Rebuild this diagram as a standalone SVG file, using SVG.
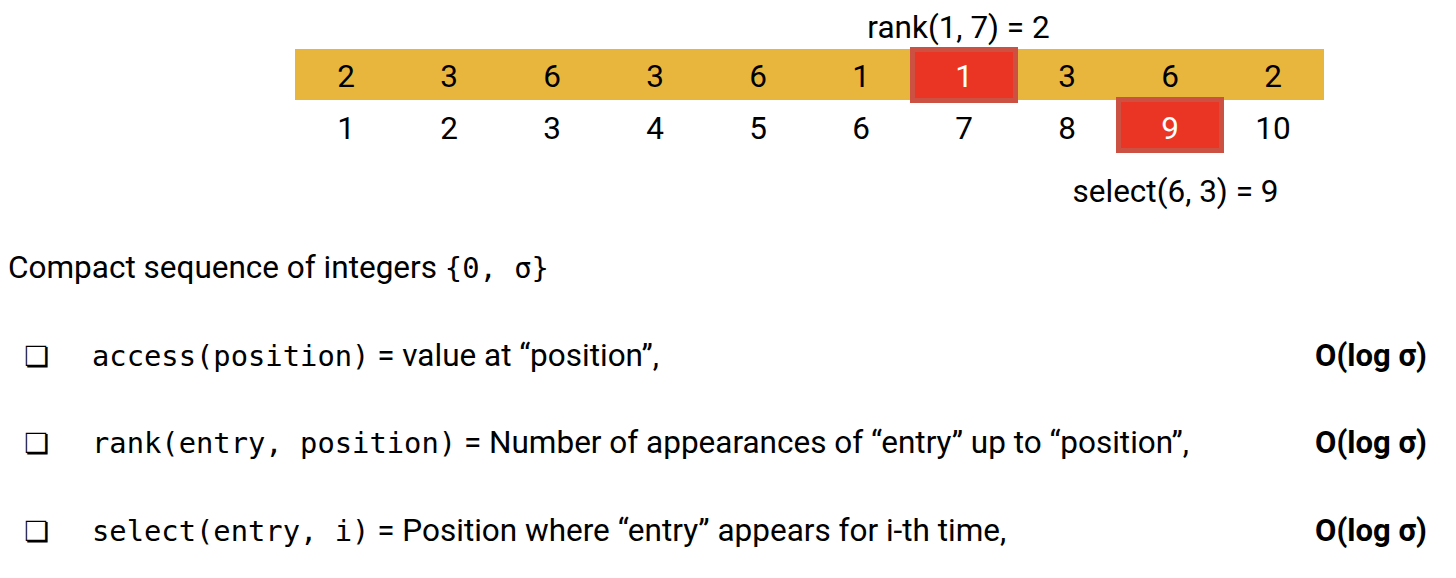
<svg xmlns="http://www.w3.org/2000/svg" width="1456" height="578" viewBox="0 0 1456 578">
<style>
.t{font-family:Roboto,"Liberation Sans",sans-serif;font-size:31.5px;fill:#000}
.c{text-anchor:middle}
.w{fill:#fff}
.m{font-family:"DejaVu Sans Mono","Liberation Mono",monospace;font-size:28.8px}
.b{font-weight:bold;text-anchor:end;font-size:31px}
.hl{fill:#ea3424;stroke:#cc5142;stroke-width:5}
.chk{font-family:"DejaVu Sans",sans-serif;font-size:28px;fill:#000}
</style>
<rect width="1456" height="578" fill="#fff"/>
<g id="array">
<rect x="295" y="49" width="1029" height="51" fill="#e9b63d"/>
</g>
<g id="highlights">
<rect class="hl" x="912.5" y="49.5" width="103" height="51"/>
<rect class="hl" x="1118.5" y="99.5" width="103" height="51"/>
</g>
<g id="values" class="t c">
<text x="346" y="87">2</text>
<text x="449" y="87">3</text>
<text x="552" y="87">6</text>
<text x="655" y="87">3</text>
<text x="758" y="87">6</text>
<text x="861" y="87">1</text>
<text x="964" y="87" class="w">1</text>
<text x="1067" y="87">3</text>
<text x="1170" y="87">6</text>
<text x="1273" y="87">2</text>
</g>
<g id="indices" class="t c">
<text x="346" y="139">1</text>
<text x="449" y="139">2</text>
<text x="552" y="139">3</text>
<text x="655" y="139">4</text>
<text x="758" y="139">5</text>
<text x="861" y="139">6</text>
<text x="964" y="139">7</text>
<text x="1067" y="139">8</text>
<text x="1170" y="139" class="w">9</text>
<text x="1273" y="139">10</text>
</g>
<g id="labels" class="t c">
<text x="958.5" y="38">rank(1, 7) = 2</text>
<text x="1175.5" y="202">select(6, 3) = 9</text>
</g>
<g id="desc">
<text class="t" x="8" y="278">Compact sequence of integers <tspan class="m">{0, σ}</tspan></text>
<text class="chk" x="24" y="366">❏</text>
<text class="t" x="92" y="366"><tspan class="m">access(position)</tspan> = value at “position”,</text>
<text class="t b" x="1427" y="366">O(log σ)</text>
<text class="chk" x="24" y="453">❏</text>
<text class="t" x="92" y="453"><tspan class="m">rank(entry, position)</tspan> = Number of appearances of “entry” up to “position”,</text>
<text class="t b" x="1427" y="453">O(log σ)</text>
<text class="chk" x="24" y="541">❏</text>
<text class="t" x="92" y="541"><tspan class="m">select(entry, i)</tspan> = Position where “entry” appears for i-th time,</text>
<text class="t b" x="1427" y="541">O(log σ)</text>
</g>
</svg>
